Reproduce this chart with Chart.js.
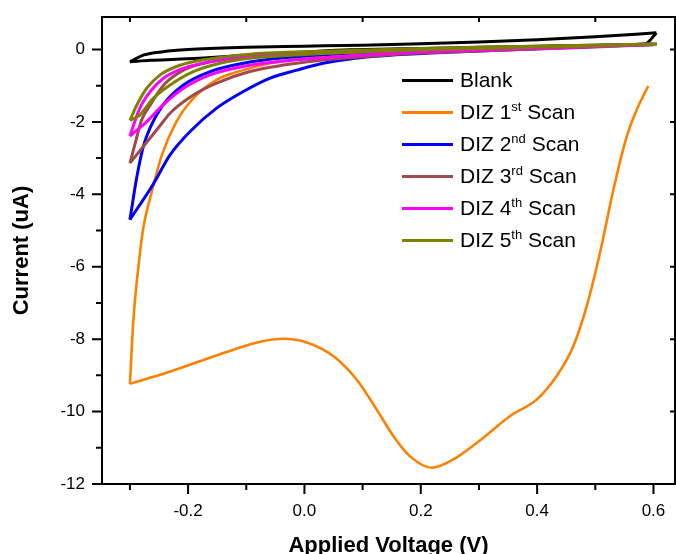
<!DOCTYPE html>
<html>
<head>
<meta charset="utf-8">
<script src="https://cdn.jsdelivr.net/npm/chart.js@4.4.1/dist/chart.umd.min.js"></script>
<style>
  html, body { margin: 0; padding: 0; background: #fff; }
  #wrap { position: relative; width: 676px; height: 554px; }
  #legend { position: absolute; left: 402px; top: 64px; font-family: 'Liberation Sans', Arial, sans-serif; font-size: 21px; color: #000; }
  .item { height: 32px; display: flex; align-items: center; white-space: nowrap; }
  .swatch { width: 51px; height: 3px; margin-right: 7px; }
  sup { font-size: 13px; line-height: 0; position: relative; top: -8px; vertical-align: baseline; }
</style>
</head>
<body>
<div id="wrap">
  <canvas id="cv" width="676" height="554"></canvas>
  <div id="legend"></div>
</div>
<script>
// Series names and colours
let names = ['Blank', 'DIZ 1st Scan', 'DIZ 2nd Scan', 'DIZ 3rd Scan', 'DIZ 4th Scan', 'DIZ 5th Scan']
let colors = ['#000000', '#ff8000', '#0000ff', '#a04b4b', '#ff00ff', '#808000']

// Tick values
let xTicks = [-0.3, -0.2, -0.1, 0.0, 0.1, 0.2, 0.3, 0.4, 0.5, 0.6]
let yTicks = [-12, -11, -10, -9, -8, -7, -6, -5, -4, -3, -2, -1, 0]

// Blank: forward (upper) and return (lower) branches
let blankFwdV = [-0.3, -0.276, -0.243, -0.2, -0.1, 0.0, 0.1, 0.2, 0.3, 0.4, 0.5, 0.605]
let blankFwdI = [-0.34, -0.15, -0.06, 0.0, 0.06, 0.09, 0.12, 0.16, 0.21, 0.27, 0.35, 0.46]
let blankRevV = [0.605, 0.585, 0.5, 0.4, 0.3, 0.2, 0.08, 0.0, -0.094, -0.18, -0.22, -0.265, -0.3]
let blankRevI = [0.46, 0.15, 0.12, 0.09, 0.06, 0.03, -0.01, -0.07, -0.15, -0.24, -0.27, -0.3, -0.34]

// DIZ 1st scan
let scan1RevV = [0.591, 0.571, 0.554, 0.531, 0.508, 0.485, 0.462, 0.433, 0.399, 0.353, 0.307, 0.256, 0.219, 0.181, 0.153, 0.124, 0.09, 0.05, 0.004, -0.036, -0.076, -0.122, -0.18, -0.237, -0.3]
let scan1RevI = [-1.01, -1.67, -2.41, -3.88, -5.62, -7.1, -8.2, -9.03, -9.67, -10.13, -10.73, -11.32, -11.55, -11.23, -10.68, -9.94, -9.12, -8.47, -8.09, -7.99, -8.07, -8.29, -8.61, -8.93, -9.23]
let scan1FwdV = [-0.3, -0.294, -0.282, -0.277, -0.26, -0.245, -0.22, -0.191, -0.151, -0.105, -0.059, -0.008, 0.078, 0.2, 0.3, 0.4, 0.5, 0.6]
let scan1FwdI = [-9.23, -7.46, -5.53, -4.93, -3.78, -2.91, -1.99, -1.35, -0.84, -0.57, -0.38, -0.26, -0.15, -0.05, 0.0, 0.05, 0.1, 0.14]

// DIZ 2nd scan
let scan2RevV = [0.6, 0.5, 0.4, 0.3, 0.176, 0.078, 0.032, -0.013, -0.059, -0.105, -0.151, -0.197, -0.231, -0.26, -0.3]
let scan2RevI = [0.14, 0.08, 0.02, -0.04, -0.13, -0.26, -0.38, -0.57, -0.79, -1.16, -1.62, -2.27, -2.91, -3.72, -4.7]
let scan2FwdV = [-0.3, -0.288, -0.277, -0.265, -0.243, -0.208, -0.162, -0.105, -0.036, 0.078, 0.2, 0.3, 0.4, 0.5, 0.6]
let scan2FwdI = [-4.7, -3.51, -2.68, -2.15, -1.53, -0.98, -0.61, -0.38, -0.23, -0.1, -0.02, 0.03, 0.07, 0.11, 0.15]

// DIZ 3rd scan
let scan3RevV = [0.6, 0.5, 0.4, 0.3, 0.2, 0.078, 0.021, -0.036, -0.094, -0.151, -0.191, -0.231, -0.248, -0.277, -0.3]
let scan3RevI = [0.13, 0.07, 0.01, -0.04, -0.1, -0.23, -0.31, -0.43, -0.61, -0.93, -1.26, -1.76, -2.1, -2.68, -3.14]
let scan3FwdV = [-0.3, -0.288, -0.28, -0.265, -0.243, -0.208, -0.162, -0.094, 0.078, 0.2, 0.3, 0.4, 0.5, 0.6]
let scan3FwdI = [-3.14, -2.41, -1.95, -1.53, -1.0, -0.57, -0.34, -0.2, -0.06, 0.0, 0.04, 0.08, 0.11, 0.14]

// DIZ 4th scan
let scan4RevV = [0.6, 0.4, 0.2, 0.078, -0.036, -0.105, -0.162, -0.208, -0.243, -0.271, -0.3]
let scan4RevI = [0.14, 0.03, -0.07, -0.18, -0.32, -0.47, -0.7, -1.07, -1.53, -1.99, -2.39]
let scan4FwdV = [-0.3, -0.283, -0.265, -0.243, -0.208, -0.162, -0.105, 0.0, 0.1, 0.2, 0.4, 0.6]
let scan4FwdI = [-2.39, -1.62, -1.16, -0.8, -0.52, -0.34, -0.23, -0.12, -0.06, -0.01, 0.07, 0.15]

// DIZ 5th scan
let scan5RevV = [0.606, 0.4, 0.216, 0.1, 0.0, -0.094, -0.145, -0.191, -0.231, -0.26, -0.283, -0.3]
let scan5RevI = [0.15, 0.06, 0.0, -0.07, -0.14, -0.24, -0.38, -0.61, -0.98, -1.35, -1.81, -1.96]
let scan5FwdV = [-0.3, -0.288, -0.271, -0.248, -0.22, -0.185, -0.145, -0.094, 0.0, 0.2, 0.4, 0.606]
let scan5FwdI = [-1.96, -1.53, -1.07, -0.7, -0.47, -0.32, -0.22, -0.13, -0.06, 0.03, 0.09, 0.15]

let branches = [
  [[blankFwdV, blankFwdI], [blankRevV, blankRevI]],
  [[scan1RevV, scan1RevI], [scan1FwdV, scan1FwdI]],
  [[scan2RevV, scan2RevI], [scan2FwdV, scan2FwdI]],
  [[scan3RevV, scan3RevI], [scan3FwdV, scan3FwdI]],
  [[scan4RevV, scan4RevI], [scan4FwdV, scan4FwdI]],
  [[scan5RevV, scan5RevI], [scan5FwdV, scan5FwdI]],
]

let isEven = (v) => Math.abs(Math.round(v * 10)) % 2 === 0

// Build one dataset per branch, so the turning points stay sharp
let datasets = []
branches.forEach((pair, s) => {
  pair.forEach(([vs, is]) => {
    datasets.push({
      label: names[s],
      data: vs.map((v, k) => ({x: v, y: is[k]})),
      borderColor: colors[s],
      borderWidth: s === 1 ? 2.6 : 3,
      showLine: true,
      pointRadius: 0,
      fill: false,
      cubicInterpolationMode: 'monotone',
      order: 5 - s,
    })
  })
})

// Box around the plot plus the Origin-style tick marks
let frame = {
  id: 'frame',
  afterDraw(chart) {
    let {ctx, chartArea: a, scales: {x, y}} = chart
    ctx.save()
    ctx.strokeStyle = '#000'
    ctx.lineWidth = 2
    ctx.strokeRect(a.left, a.top, a.right - a.left, a.bottom - a.top)
    ctx.beginPath()
    xTicks.forEach((v) => {
      let px = x.getPixelForValue(v)
      ctx.moveTo(px, a.bottom)
      ctx.lineTo(px, a.bottom + (isEven(v) ? 10 : 6))
      if (!isEven(v)) {
        ctx.moveTo(px, a.top)
        ctx.lineTo(px, a.top + 5)
      }
    })
    yTicks.forEach((v) => {
      let py = y.getPixelForValue(v)
      let even = v % 2 === 0
      ctx.moveTo(a.left, py)
      ctx.lineTo(a.left - (even ? 10 : 6), py)
      if (even) {
        ctx.moveTo(a.right, py)
        ctx.lineTo(a.right - 5, py)
      }
    })
    ctx.stroke()
    ctx.restore()
  }
}

let font = {family: "'Liberation Sans', Arial, sans-serif", size: 17}
let titleFont = {family: "'Liberation Sans', Arial, sans-serif", size: 22, weight: 'bold'}

let chart = new Chart(document.getElementById('cv'), {
  type: 'scatter',
  data: {datasets: datasets},
  options: {
    responsive: false,
    animation: false,
    layout: {padding: {top: 17, right: 1, left: 0, bottom: 0}},
    plugins: {legend: {display: false}, tooltip: {enabled: false}},
    scales: {
      x: {
        type: 'linear',
        min: -0.348,
        max: 0.637,
        grid: {display: false, drawTicks: false},
        border: {display: false},
        afterBuildTicks: (s) => { s.ticks = xTicks.map((v) => ({value: v})) },
        afterFit: (s) => { s.height = 70; s.paddingLeft = 0; s.paddingRight = 0 },
        ticks: {
          color: '#000',
          font: font,
          padding: 17,
          maxRotation: 0,
          autoSkip: false,
          callback: (v) => isEven(v) ? v.toFixed(1) : '',
        },
        title: {display: true, text: 'Applied Voltage (V)', color: '#000', font: titleFont, padding: {top: 0, bottom: -5}},
      },
      y: {
        type: 'linear',
        min: -12,
        max: 0.897,
        grid: {display: false, drawTicks: false},
        border: {display: false},
        afterBuildTicks: (s) => { s.ticks = yTicks.map((v) => ({value: v})) },
        afterFit: (s) => { s.width = 102; s.paddingTop = 0; s.paddingBottom = 0 },
        ticks: {
          color: '#000',
          font: font,
          padding: 17,
          autoSkip: false,
          callback: (v) => v % 2 === 0 ? String(v) : '',
        },
        title: {display: true, text: 'Current (uA)', color: '#000', font: titleFont, padding: {top: 9, bottom: 0}},
      },
    },
  },
  plugins: [frame],
})

// HTML legend so the ordinal suffixes can be real superscripts
let legend = document.getElementById('legend')
names.forEach((name, s) => {
  let row = document.createElement('div')
  row.className = 'item'
  let sw = document.createElement('span')
  sw.className = 'swatch'
  sw.style.background = colors[s]
  let txt = document.createElement('span')
  txt.innerHTML = name.replace(/(\d)(st|nd|rd|th)/, '$1<sup>$2</sup>')
  row.appendChild(sw)
  row.appendChild(txt)
  legend.appendChild(row)
})
</script>
</body>
</html>
